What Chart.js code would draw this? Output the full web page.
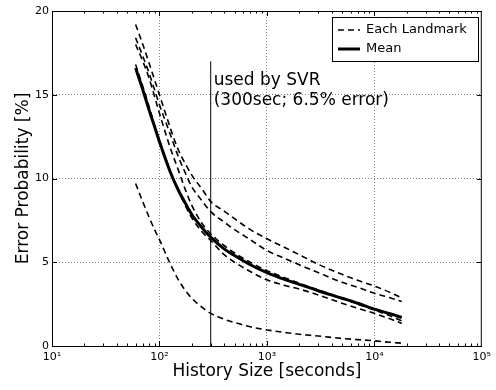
<!DOCTYPE html>
<html>
<head>
<meta charset="utf-8">
<script src="https://cdn.jsdelivr.net/npm/chart.js@4.4.0/dist/chart.umd.min.js"></script>
<style>
  html, body { margin: 0; padding: 0; background: #fff; }
</style>
</head>
<body>
<canvas id="canvas_chart" width="496" height="390"></canvas>
<script>
const historySeconds = [60, 70, 80, 90, 100, 125, 150, 175, 200, 250, 300, 400, 500, 700,
    1000, 1500, 2000, 3000, 5000, 7000, 10000, 14000, 18000];

// error probability [%] per landmark
const landmarkA = [19.2, 18.0, 16.9, 15.9, 15.0, 13.1, 11.7, 10.85, 10.2, 9.35, 8.62, 8.05, 7.6, 6.95,
    6.4, 5.85, 5.45, 4.88, 4.28, 3.92, 3.58, 3.2, 2.87];
const landmarkB = [18.4, 17.3, 16.3, 15.3, 14.4, 12.7, 11.3, 10.3, 9.5, 8.65, 8.02, 7.4, 6.95, 6.35,
    5.7, 5.2, 4.85, 4.38, 3.8, 3.5, 3.15, 2.88, 2.65];
const landmarkC = [18.0, 17.0, 16.0, 14.9, 13.9, 11.9, 10.5, 9.3, 8.4, 7.3, 6.7, 6.0, 5.55, 5.0,
    4.5, 4.05, 3.75, 3.35, 2.85, 2.5, 2.15, 1.8, 1.5];
const landmarkD = [16.8, 15.5, 14.3, 13.2, 12.3, 10.5, 9.3, 8.35, 7.65, 6.8, 6.3, 5.45, 5.0, 4.45,
    3.95, 3.6, 3.4, 3.05, 2.55, 2.25, 1.95, 1.62, 1.35];
const landmarkE = [9.7, 8.6, 7.7, 6.95, 6.35, 4.95, 3.95, 3.3, 2.85, 2.3, 1.95, 1.6, 1.4, 1.15,
    0.96, 0.8, 0.7, 0.6, 0.45, 0.38, 0.31, 0.22, 0.17];
const meanError = [16.6, 15.3, 14.1, 13.1, 12.2, 10.45, 9.3, 8.5, 7.85, 7.05, 6.5, 5.8, 5.4, 4.85,
    4.38, 3.95, 3.68, 3.3, 2.85, 2.55, 2.2, 1.93, 1.7];

const xTickValues = [10, 100, 1000, 10000, 100000];
const xTickLabels = ['10\u00B9', '10\u00B2', '10\u00B3', '10\u2074', '10\u2075'];
const yTickValues = [0, 5, 10, 15, 20];

const svrSeconds = 300;
const svrLineTop = 17;
const noteLines = ['used by SVR', '(300sec; 6.5% error)'];
const legendLabels = ['Each Landmark', 'Mean'];

const FONT = "'DejaVu Sans', sans-serif";
const DASH = [6, 4];

const toPoints = (ys) => historySeconds.map((x, i) => ({ x: x, y: ys[i] }));

const landmarkSet = (ys) => ({
    label: legendLabels[0],
    data: toPoints(ys),
    borderColor: '#000',
    borderWidth: 1.6,
    borderDash: DASH,
    pointRadius: 0,
    fill: false,
    cubicInterpolationMode: 'monotone'
});

// inward ticks, top/right frame, legend box and the SVR note
const decorPlugin = {
    id: 'decor',
    afterDraw(chart) {
        const ctx = chart.ctx;
        const a = chart.chartArea;
        const xs = chart.scales.x;
        const ys = chart.scales.y;
        ctx.save();
        ctx.strokeStyle = '#000';
        ctx.lineWidth = 1;

        // frame
        ctx.beginPath();
        ctx.moveTo(a.left, a.top + 0.5);
        ctx.lineTo(a.right, a.top + 0.5);
        ctx.moveTo(a.right - 0.5, a.top);
        ctx.lineTo(a.right - 0.5, a.bottom);
        ctx.stroke();

        // x ticks (major + log minors), bottom and top
        ctx.beginPath();
        for (let d = 10; d < 100000; d *= 10) {
            for (let m = 1; m < 10; m++) {
                const px = Math.round(xs.getPixelForValue(d * m)) + 0.5;
                const len = m === 1 ? 5 : 2.5;
                ctx.moveTo(px, a.bottom);
                ctx.lineTo(px, a.bottom - len);
                ctx.moveTo(px, a.top);
                ctx.lineTo(px, a.top + len);
            }
        }
        // y ticks, left and right
        yTickValues.forEach(v => {
            const py = Math.round(ys.getPixelForValue(v)) + 0.5;
            ctx.moveTo(a.left, py);
            ctx.lineTo(a.left + 5, py);
            ctx.moveTo(a.right, py);
            ctx.lineTo(a.right - 5, py);
        });
        ctx.stroke();

        // note next to the SVR line
        const nx = xs.getPixelForValue(svrSeconds) + 3;
        const ny = ys.getPixelForValue(svrLineTop);
        ctx.fillStyle = '#000';
        ctx.font = '17px ' + FONT;
        ctx.textAlign = 'left';
        ctx.textBaseline = 'alphabetic';
        ctx.fillText(noteLines[0], nx, ny + 24);
        ctx.fillText(noteLines[1], nx, ny + 44);

        // legend
        const bx = 332, by = 17, bw = 146, bh = 44;
        ctx.fillStyle = '#fff';
        ctx.fillRect(bx, by, bw, bh);
        ctx.strokeRect(bx + 0.5, by + 0.5, bw, bh);
        ctx.beginPath();
        ctx.setLineDash(DASH);
        ctx.lineWidth = 1.6;
        ctx.moveTo(bx + 6, by + 13);
        ctx.lineTo(bx + 28, by + 13);
        ctx.stroke();
        ctx.setLineDash([]);
        ctx.lineWidth = 3;
        ctx.beginPath();
        ctx.moveTo(bx + 6, by + 32);
        ctx.lineTo(bx + 28, by + 32);
        ctx.stroke();
        ctx.fillStyle = '#000';
        ctx.font = '13px ' + FONT;
        ctx.textBaseline = 'middle';
        ctx.fillText(legendLabels[0], bx + 34, by + 13);
        ctx.fillText(legendLabels[1], bx + 34, by + 32);
        ctx.restore();
    }
};

const innerGrid = (edges) => (c) => (c.tick && edges.includes(c.tick.value)) ? 'rgba(0,0,0,0)' : '#7f7f7f';

new Chart(document.getElementById('canvas_chart'), {
    type: 'line',
    data: {
        datasets: [
            landmarkSet(landmarkA),
            landmarkSet(landmarkB),
            landmarkSet(landmarkC),
            landmarkSet(landmarkD),
            landmarkSet(landmarkE),
            {
                label: legendLabels[1],
                data: toPoints(meanError),
                borderColor: '#000',
                borderWidth: 3,
                pointRadius: 0,
                fill: false,
                cubicInterpolationMode: 'monotone'
            },
            {
                label: 'SVR',
                data: [{ x: svrSeconds, y: 0 }, { x: svrSeconds, y: svrLineTop }],
                borderColor: '#000',
                borderWidth: 1,
                pointRadius: 0,
                fill: false
            }
        ]
    },
    options: {
        responsive: false,
        animation: false,
        devicePixelRatio: 1,
        layout: { padding: { top: 11, right: 12, left: 0, bottom: 0 } },
        plugins: {
            legend: { display: false },
            tooltip: { enabled: false }
        },
        scales: {
            x: {
                type: 'logarithmic',
                min: 10,
                max: 100000,
                afterBuildTicks: (s) => { s.ticks = xTickValues.map(v => ({ value: v })); },
                afterFit: (s) => { s.height = 44; },
                ticks: {
                    callback: (v, i) => xTickLabels[i],
                    font: { family: FONT, size: 11 },
                    color: '#000',
                    padding: 5,
                    maxRotation: 0,
                    autoSkip: false
                },
                grid: { drawTicks: false, color: innerGrid([10, 100000]), lineWidth: 1 },
                border: { display: true, color: '#000', width: 1, dash: [1, 2] },
                title: {
                    display: true,
                    text: 'History Size [seconds]',
                    font: { family: FONT, size: 17 },
                    color: '#000',
                    padding: { top: 0, bottom: 8 }
                }
            },
            y: {
                min: 0,
                max: 20,
                afterBuildTicks: (s) => { s.ticks = yTickValues.map(v => ({ value: v })); },
                afterFit: (s) => { s.width = 52; },
                ticks: {
                    font: { family: FONT, size: 11 },
                    color: '#000',
                    padding: 3
                },
                grid: { drawTicks: false, color: innerGrid([0, 20]), lineWidth: 1 },
                border: { display: true, color: '#000', width: 1, dash: [1, 2] },
                title: {
                    display: true,
                    text: 'Error Probability [%]',
                    font: { family: FONT, size: 17 },
                    color: '#000',
                    padding: { top: 13, bottom: 0 }
                }
            }
        }
    },
    plugins: [decorPlugin]
});
</script>
</body>
</html>
